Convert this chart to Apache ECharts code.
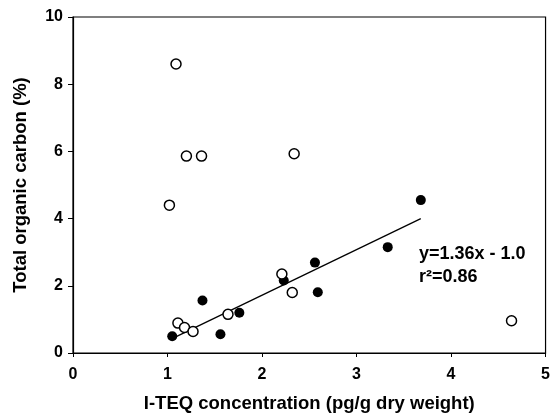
<!DOCTYPE html>
<html>
<head>
<meta charset="utf-8">
<script src="https://cdn.jsdelivr.net/npm/echarts@6/dist/echarts.min.js"></script>
<style>
  html, body { margin: 0; padding: 0; background: #fff; }
  #main { width: 553px; height: 418px; }
</style>
</head>
<body>
<div id="main"></div>
<script>
// open circles
var openX = [1.09, 1.20, 1.36, 2.34, 1.02, 1.11, 1.18, 1.27, 1.64, 2.21, 2.32, 4.64];
var openY = [8.6, 5.86, 5.86, 5.93, 4.4, 0.89, 0.76, 0.64, 1.15, 2.35, 1.80, 0.96];
// filled circles
var fillX = [1.05, 1.37, 1.56, 1.76, 2.23, 2.56, 2.59, 3.33, 3.68];
var fillY = [0.50, 1.56, 0.56, 1.20, 2.16, 2.69, 1.81, 3.15, 4.55];
// regression line ends
var lineX = [1.07, 3.68];
var lineY = [0.46, 4.0];
var xTicks = [0, 1, 2, 3, 4, 5];
var yTicks = [0, 2, 4, 6, 8, 10];

var font = 'Liberation Sans';

function pairs(xs, ys) {
  return xs.map(function (x, i) { return [x, ys[i]]; });
}

var chart = echarts.init(document.getElementById('main'));
chart.setOption({
  animation: false,
  backgroundColor: '#fff',
  grid: { left: 73, right: 2, top: 17, bottom: 64, show: true, borderColor: '#000', borderWidth: 1.2 },
  xAxis: {
    type: 'value', min: 0, max: 5, interval: 1,
    name: 'I-TEQ concentration (pg/g dry weight)',
    nameLocation: 'middle', nameGap: 41,
    nameTextStyle: { fontFamily: font, fontWeight: 'bold', fontSize: 18.5, color: '#000' },
    axisLine: { onZero: false, lineStyle: { color: '#000', width: 1.2 } },
    axisTick: { show: true, length: 4, lineStyle: { color: '#000' } },
    axisLabel: { fontFamily: font, fontWeight: 'bold', fontSize: 16, color: '#000', margin: 14,
      formatter: function (v) { return xTicks.indexOf(v) >= 0 ? String(v) : ''; } },
    splitLine: { show: false }
  },
  yAxis: {
    type: 'value', min: 0, max: 10, interval: 2,
    name: 'Total organic carbon (%)',
    nameLocation: 'middle', nameGap: 43, nameRotate: 90,
    nameTextStyle: { fontFamily: font, fontWeight: 'bold', fontSize: 18.5, color: '#000' },
    axisLine: { onZero: false, lineStyle: { color: '#000', width: 1.2 } },
    axisTick: { show: true, length: 5, lineStyle: { color: '#000' } },
    axisLabel: { fontFamily: font, fontWeight: 'bold', fontSize: 16, color: '#000', margin: 10,
      formatter: function (v) { return yTicks.indexOf(v) >= 0 ? String(v) : ''; } },
    splitLine: { show: false }
  },
  series: [
    {
      type: 'line',
      data: pairs(lineX, lineY),
      symbol: 'none',
      lineStyle: { color: '#000', width: 1.3 },
      z: 1
    },
    {
      type: 'scatter',
      data: pairs(openX, openY),
      symbol: 'circle', symbolSize: 10,
      itemStyle: { color: '#fff', borderColor: '#000', borderWidth: 1.5, opacity: 1 },
      z: 3
    },
    {
      type: 'scatter',
      data: pairs(fillX, fillY),
      symbol: 'circle', symbolSize: 10,
      itemStyle: { color: '#000', opacity: 1 },
      z: 2
    },
    {
      type: 'scatter',
      data: [[3.66, 2.6]],
      symbolSize: 0,
      silent: true,
      itemStyle: { opacity: 1 },
      label: {
        show: true, position: 'inside', align: 'left', verticalAlign: 'middle',
        fontFamily: font, fontWeight: 'bold', fontSize: 18, color: '#000', lineHeight: 23,
        formatter: 'y=1.36x - 1.0\nr\u00b2=0.86'
      },
      z: 4
    }
  ]
});
</script>
</body>
</html>
